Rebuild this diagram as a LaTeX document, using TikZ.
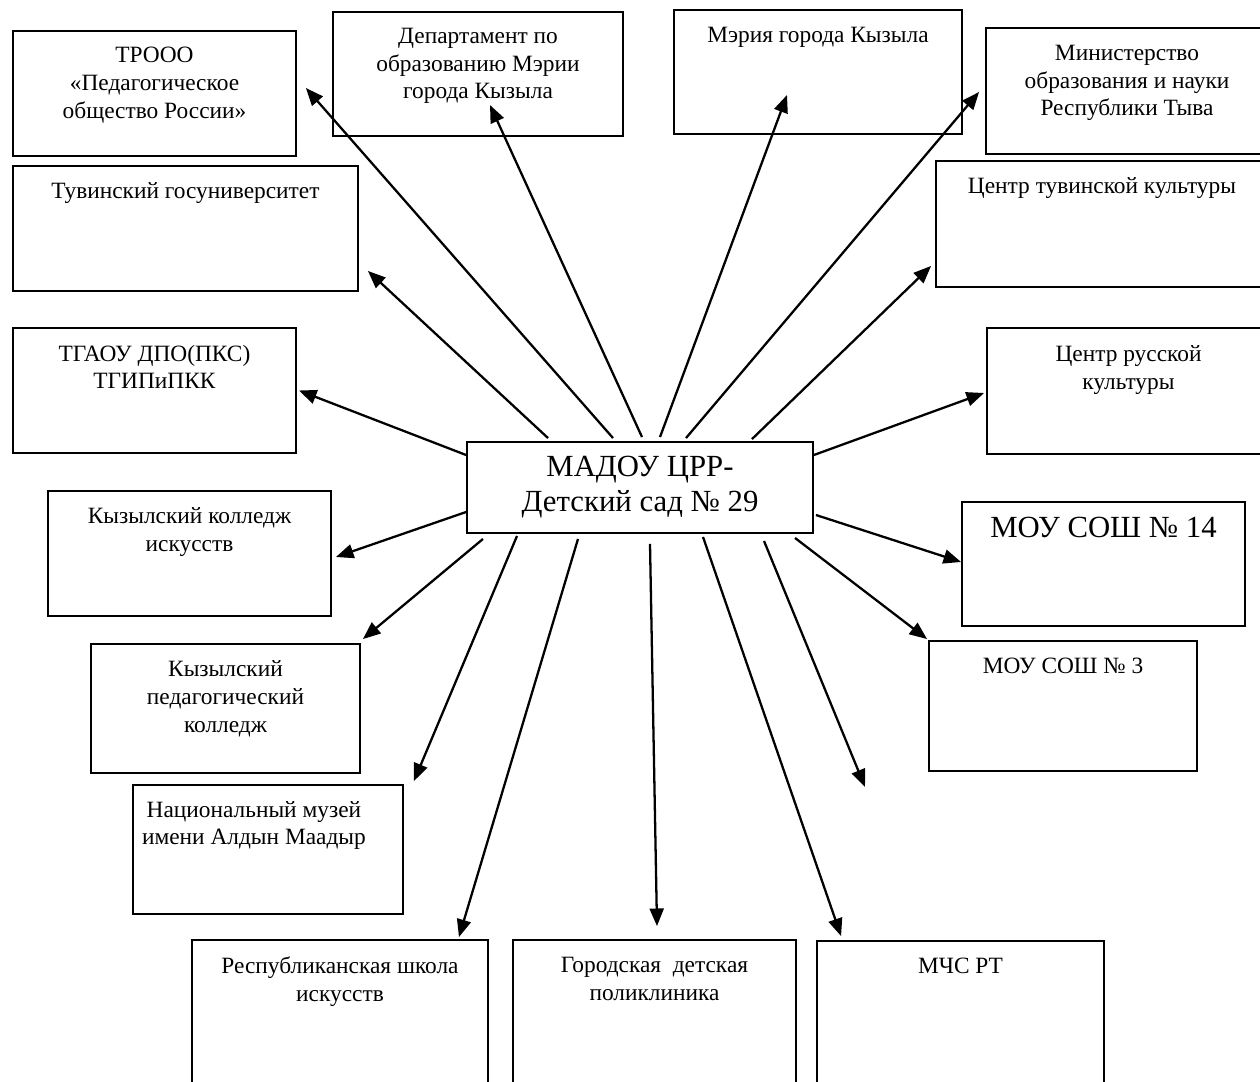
\documentclass[tikz,border=0pt]{standalone}
\usepackage{fontspec}
\setmainfont{Liberation Serif}
\usetikzlibrary{arrows.meta,positioning}

\begin{document}
\begin{tikzpicture}[x=0.02cm, y=-0.02cm,
	box/.style={draw, line width=1.1pt, inner sep=0pt},
	txt/.style={align=center, inner sep=0pt, font=\fontsize{13.3}{15.8}\selectfont},
	bigtxt/.style={align=center, inner sep=0pt, font=\fontsize{17.5}{20}\selectfont},
	link/.style={line width=1.3pt, -{Triangle[length=10pt,width=8pt]}}]

	\useasboundingbox (0,0) rectangle (1260,1081);
	\clip (0,0) rectangle (1260,1081);

	\node[box, minimum width=5.66cm, minimum height=2.5cm] (tpo) at (154.5,93.5) {};
	\node[box, minimum width=5.8cm, minimum height=2.48cm] (dep) at (478,74) {};
	\node[box, minimum width=5.76cm, minimum height=2.48cm] (mer) at (818,72) {};
	\node[box, minimum width=5.64cm, minimum height=2.52cm] (min) at (1127,91) {};
	\node[box, minimum width=6.9cm, minimum height=2.5cm] (tgu) at (185.5,228.5) {};
	\node[box, minimum width=6.64cm, minimum height=2.52cm] (ctk) at (1102,224) {};
	\node[box, minimum width=5.66cm, minimum height=2.5cm] (tgaou) at (154.5,390.5) {};
	\node[box, minimum width=5.66cm, minimum height=2.52cm] (crk) at (1128.5,391) {};
	\node[box, minimum width=5.66cm, minimum height=2.5cm] (kki) at (189.5,553.5) {};
	\node[box, minimum width=5.66cm, minimum height=2.48cm] (sosh14) at (1103.5,564) {};
	\node[box, minimum width=5.38cm, minimum height=2.58cm] (kpk) at (225.5,708.5) {};
	\node[box, minimum width=5.36cm, minimum height=2.6cm] (sosh3) at (1063,706) {};
	\node[box, minimum width=5.4cm, minimum height=2.58cm] (nmz) at (268,849.5) {};
	\node[box, minimum width=5.92cm, minimum height=3.2cm] (rshi) at (340,1020) {};
	\node[box, minimum width=5.66cm, minimum height=3.2cm] (gdp) at (654.5,1020) {};
	\node[box, minimum width=5.74cm, minimum height=3.18cm] (mchs) at (960.5,1020.5) {};

	\node[box, bigtxt, minimum width=6.92cm, minimum height=1.82cm] (madou) at (640,487.5) {МАДОУ ЦРР-\\Детский сад № 29};

	\node[txt, below=9.5pt of tpo.north] (tpo-t) {ТРООО\\«Педагогическое\\общество России»};
	\node[txt, below=9.5pt of dep.north] (dep-t) {Департамент по\\образованию Мэрии\\города Кызыла};
	\node[txt, below=10pt of mer.north] (mer-t) {Мэрия города Кызыла};
	\node[txt, below=10pt of min.north] (min-t) {Министерство\\образования и науки\\Республики Тыва};
	\node[txt, below=10pt of tgu.north] (tgu-t) {Тувинский госуниверситет};
	\node[txt, below=10pt of ctk.north] (ctk-t) {Центр тувинской культуры};
	\node[txt, below=10pt of tgaou.north] (tgaou-t) {ТГАОУ ДПО(ПКС)\\ТГИПиПКК};
	\node[txt, below=10.5pt of crk.north] (crk-t) {Центр русской\\культуры};
	\node[txt, below=10pt of kki.north] (kki-t) {Кызылский колледж\\искусств};
	\node[bigtxt, below=9pt of sosh14.north] (sosh14-t) {МОУ СОШ № 14};
	\node[txt, below=10pt of kpk.north] (kpk-t) {Кызылский\\педагогический\\колледж};
	\node[txt, below=10pt of sosh3.north] (sosh3-t) {МОУ СОШ № 3};
	\node[txt, below=9.5pt of nmz.north, xshift=-8pt] (nmz-t) {Национальный музей\\имени Алдын Маадыр};
	\node[txt, below=10pt of rshi.north] (rshi-t) {Республиканская школа\\искусств};
	\node[txt, below=10pt of gdp.north] (gdp-t) {Городская\ \ детская\\поликлиника};
	\node[txt, below=10pt of mchs.north] (mchs-t) {МЧС РТ};

	\coordinate (free) at (865,787);

	\draw[link] ([shift={(-92,-3)}]madou.north) -- ([shift={(9,-21)}]tgu.south east);
	\draw[link] ([shift={(-27,-3)}]madou.north) -- ([shift={(9,-5.5)}]tpo.east);
	\draw[link] ([shift={(2,-4)}]madou.north) -- ([shift={(12,31)}]dep.center);
	\draw[link] ([shift={(20,-4)}]madou.north) -- ([shift={(-31,23)}]mer.center);
	\draw[link] ([shift={(46,-3)}]madou.north) -- ([shift={(-6,1)}]min.west);
	\draw[link] ([shift={(112,-2)}]madou.north) -- ([shift={(-4,-22)}]ctk.south west);
	\draw[link] ([shift={(0,-32.5)}]madou.west) -- ([shift={(2,0)}]tgaou.east);
	\draw[link] ([shift={(0,24.5)}]madou.west) -- ([shift={(4,3.5)}]kki.east);
	\draw[link] ([shift={(0,-32.5)}]madou.east) -- ([shift={(-2,2)}]crk.west);
	\draw[link] ([shift={(2,27.5)}]madou.east) -- ([shift={(0,-2)}]sosh14.west);
	\draw[link] ([shift={(-157,5)}]madou.south) -- ([shift={(2,-4)}]kpk.north east);
	\draw[link] ([shift={(-123,2)}]madou.south) -- ([shift={(10,-3)}]nmz.north east);
	\draw[link] ([shift={(-62,5)}]madou.south) -- ([shift={(-30,-2)}]rshi.north east);
	\draw[link] ([shift={(10,10)}]madou.south) -- ([shift={(2.5,-13)}]gdp.north);
	\draw[link] ([shift={(63,3)}]madou.south) -- ([shift={(25,-4)}]mchs.north west);
	\draw[link] ([shift={(124,7)}]madou.south) -- (free);
	\draw[link] ([shift={(155,4)}]madou.south) -- ([shift={(-1,-1)}]sosh3.north west);
\end{tikzpicture}
\end{document}
